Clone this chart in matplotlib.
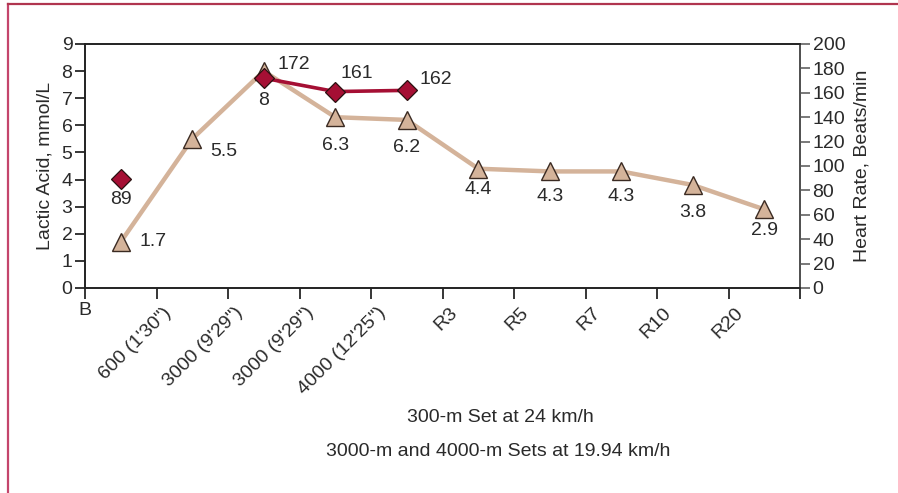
import matplotlib
matplotlib.use("Agg")
import matplotlib.pyplot as plt
from matplotlib.lines import Line2D

plt.rcParams['font.family'] = ['Liberation Sans', 'DejaVu Sans']

# ---- data ----
x_labels = ["B", "600 (1'30\")", "3000 (9'29\")", "3000 (9'29\")", "4000 (12'25\")",
            "R3", "R5", "R7", "R10", "R20"]
lactate_x = [0.5, 1.5, 2.5, 3.5, 4.5, 5.5, 6.5, 7.5, 8.5, 9.5]
lactate = [1.7, 5.5, 8.0, 6.3, 6.2, 4.4, 4.3, 4.3, 3.8, 2.9]
lactate_text = ["1.7", "5.5", "8", "6.3", "6.2", "4.4", "4.3", "4.3", "3.8", "2.9"]
hr_single_x = [0.5]
hr_single = [89]
hr_x = [2.5, 3.5, 4.5]
hr = [172, 161, 162]
xlabel_lines = ["300-m Set at 24 km/h", "3000-m and 4000-m Sets at 19.94 km/h"]

TAN = "#d4b39a"
RED = "#a50f34"
TXT = "#2a2a2a"

fig = plt.figure(figsize=(8.98, 4.93), dpi=100)
ax = fig.add_axes([85/898, 1-288/493, 715/898, 244/493])
ax2 = ax.twinx()

ax.set_xlim(0, 10)
ax.set_ylim(0, 9)
ax2.set_ylim(0, 200)

# lactate line and triangles
ax.plot(lactate_x, lactate, color=TAN, lw=3.2, zorder=2, solid_capstyle='butt')
ax.plot(lactate_x, lactate, ls='none', marker='^', ms=13, mfc=TAN, mec="#3a2a22",
        mew=1.0, zorder=3)

# heart rate on twin axis
ax2.plot(hr_x, hr, color=RED, lw=2.6, zorder=4)
ax2.plot(hr_x + hr_single_x, hr + hr_single, ls='none', marker='D', ms=10.5,
         mfc=RED, mec="#2a1010", mew=0.9, zorder=5)

fs = 14
# lactate labels (pixel offsets)
lac_off = [(32, 0), (32, -13), (0, -29), (0, -28), (0, -28), (0, -21), (0, -25),
           (0, -25), (0, -28), (0, -21)]
for xv, yv, t, (dx, dy) in zip(lactate_x, lactate, lactate_text, lac_off):
    ax.annotate(t, (xv, yv), xytext=(dx, dy), textcoords='offset pixels',
                ha='center', va='center', fontsize=fs, color=TXT, zorder=6)

hr_off = [(30, 14), (22, 18), (29, 11)]
for xv, yv, (dx, dy) in zip(hr_x, hr, hr_off):
    ax2.annotate(str(yv), (xv, yv), xytext=(dx, dy), textcoords='offset pixels',
                 ha='center', va='center', fontsize=fs, color=TXT, zorder=6)
for xv, yv in zip(hr_single_x, hr_single):
    ax2.annotate(str(yv), (xv, yv), xytext=(0, -20), textcoords='offset pixels',
                 ha='center', va='center', fontsize=fs, color=TXT, zorder=6)

# axes styling
ax.set_yticks(range(0, 10))
ax2.set_yticks(range(0, 201, 20))
ax.set_xticks(range(0, 11))
ax.set_xticklabels([""] * 11)
for a in (ax, ax2):
    for s in a.spines.values():
        s.set_linewidth(1.2)
        s.set_color("#222222")
ax2.spines['right'].set_color("#555555")
ax.tick_params(axis='y', direction='out', length=7, width=1.1, labelsize=fs,
               labelcolor=TXT, pad=2)
ax.tick_params(axis='x', direction='out', length=8, width=1.1)
ax2.tick_params(axis='y', direction='out', length=7, width=1.1, labelsize=fs,
                labelcolor=TXT, color="#555555", pad=2)

# x tick labels
for i, lab in enumerate(x_labels):
    if i == 0:
        ax.annotate(lab, (i, 0), xycoords='data', xytext=(0, -14),
                    textcoords='offset pixels', ha='center', va='top',
                    fontsize=fs, color=TXT, annotation_clip=False)
    else:
        ax.annotate(lab, (i, 0), xycoords='data', xytext=(6, -16),
                    textcoords='offset pixels', ha='right', va='top',
                    rotation=45, rotation_mode='anchor', fontsize=fs,
                    color=TXT, annotation_clip=False)

ax.set_ylabel("Lactic Acid, mmol/L", fontsize=fs, color=TXT, labelpad=6)
ax2.set_ylabel("Heart Rate, Beats/min", fontsize=fs, color=TXT, labelpad=6)

fig.text(500/898, 1-418/493, xlabel_lines[0], ha='center', va='center',
         fontsize=fs, color=TXT)
fig.text(498/898, 1-452/493, xlabel_lines[1], ha='center', va='center',
         fontsize=fs, color=TXT)

# frame lines (left and top)
BORDER = "#c4456c"
fig.add_artist(Line2D([8/898, 8/898], [0, 1-4/493], transform=fig.transFigure,
                      color=BORDER, lw=1.6))
fig.add_artist(Line2D([8/898, 1], [1-4/493, 1-4/493], transform=fig.transFigure,
                      color="#b0354f", lw=1.6))

fig.savefig("out.png", dpi=100)
